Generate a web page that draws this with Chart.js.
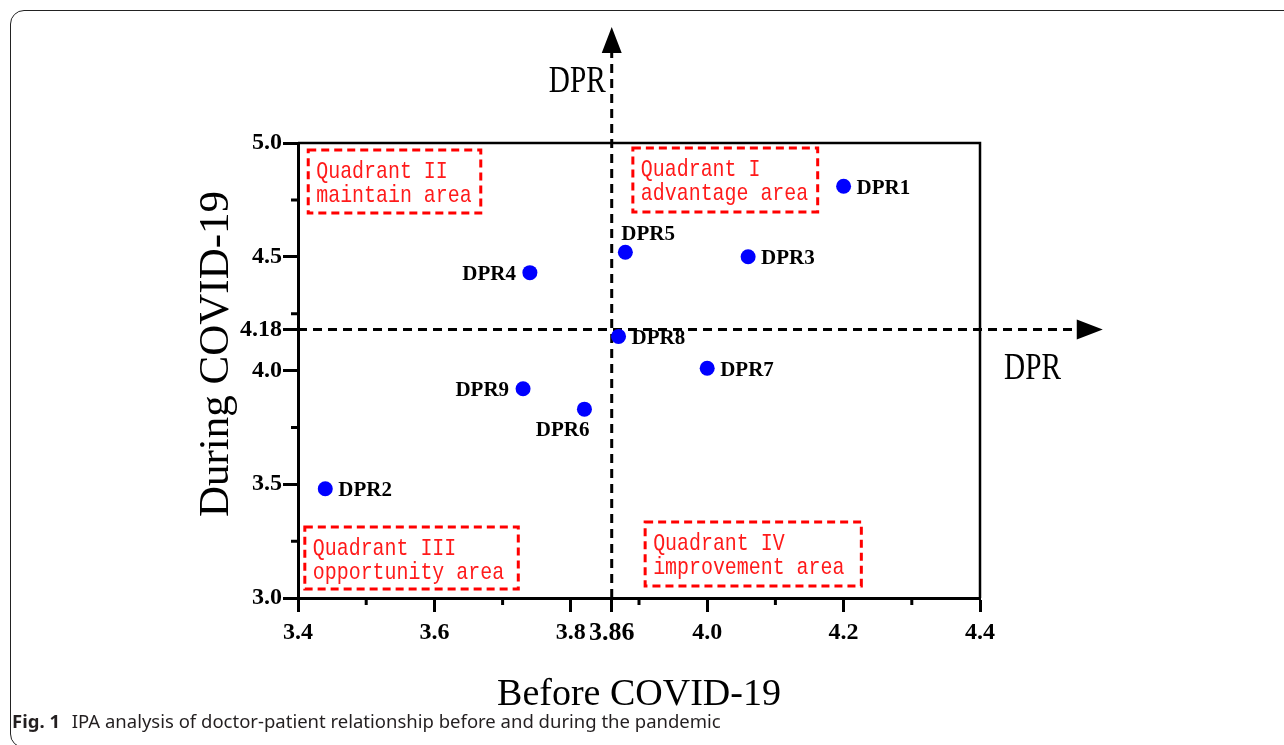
<!DOCTYPE html>
<html>
<head>
<meta charset="utf-8">
<script src="https://cdn.jsdelivr.net/npm/chart.js@4.4.0/dist/chart.umd.min.js"></script>
<style>
html, body { margin: 0; padding: 0; background: #fff; }
#wrap { position: relative; width: 1284px; height: 745px; overflow: hidden; }
#chart { position: absolute; left: 0; top: 0; }
#frame { position: absolute; left: 10px; top: 10px; width: 1320px; height: 738px; border: 1.5px solid #222; border-radius: 14px; box-sizing: border-box; pointer-events: none; }
#caption { position: absolute; left: 12px; top: 712px; font-family: "Noto Sans"; font-size: 18.5px; line-height: 18px; color: #231f20; white-space: nowrap; }
#caption b { margin-right: 7px; }
</style>
</head>
<body>
<div id="wrap">
  <canvas id="chart" width="1284" height="745"></canvas>
  <div id="frame"></div>
  <div id="caption"><b>Fig. 1</b> IPA analysis of doctor-patient relationship before and during the pandemic</div>
</div>
<script>
// data
const names  = ["DPR1", "DPR2", "DPR3", "DPR4", "DPR5", "DPR6", "DPR7", "DPR8", "DPR9"];
const before = [4.20, 3.44, 4.06, 3.74, 3.88, 3.82, 4.00, 3.87, 3.73];
const during = [4.81, 3.48, 4.50, 4.43, 4.52, 3.83, 4.01, 4.15, 3.92];

const xTicks = [3.4, 3.6, 3.8, 3.86, 4.0, 4.2, 4.4];
const xTickLabels = ["3.4", "3.6", "3.8", "3.86", "4.0", "4.2", "4.4"];
const xMinor = [3.5, 3.7, 3.9, 4.1, 4.3];
const yTicks = [3.0, 3.5, 4.0, 4.18, 4.5, 5.0];
const yTickLabels = ["3.0", "3.5", "4.0", "4.18", "4.5", "5.0"];
const yMinor = [3.25, 3.75, 4.25, 4.75];

const xMean = 3.86;
const yMean = 4.18;

// where each point label sits
const labelSide = ["right", "right", "right", "left", "above", "below", "right", "right", "left"];

// quadrant boxes, in data units
const quadrants = [
    { lines: ["Quadrant II", "maintain area"], x: [3.415, 3.668], y: [4.969, 4.692] },
    { lines: ["Quadrant I", "advantage area"], x: [3.891, 4.162], y: [4.978, 4.697] },
    { lines: ["Quadrant III", "opportunity area"], x: [3.410, 3.723], y: [3.312, 3.040] },
    { lines: ["Quadrant IV", "improvement area"], x: [3.909, 4.226], y: [3.334, 3.053] }
];

const SERIF = "'Liberation Serif', 'Times New Roman', serif";
const MONO = "'Liberation Mono', monospace";

function squeezeText(ctx, text, x, y, sx) {
    ctx.save();
    ctx.translate(x, y);
    ctx.scale(sx, 1);
    ctx.fillText(text, 0, 0);
    ctx.restore();
}

const decor = {
    id: "decor",
    beforeDatasetsDraw(chart) {
        const { ctx, chartArea: a, scales: { x, y } } = chart;
        ctx.save();

        // top and right edges of the box
        ctx.strokeStyle = "#000";
        ctx.lineWidth = 2.5;
        ctx.beginPath();
        ctx.moveTo(a.left, a.top);
        ctx.lineTo(a.right, a.top);
        ctx.lineTo(a.right, a.bottom);
        ctx.stroke();

        // minor ticks
        ctx.lineWidth = 3;
        ctx.beginPath();
        xMinor.forEach(v => {
            const px = x.getPixelForValue(v);
            ctx.moveTo(px, a.bottom);
            ctx.lineTo(px, a.bottom + 7);
        });
        yMinor.forEach(v => {
            const py = y.getPixelForValue(v);
            ctx.moveTo(a.left, py);
            ctx.lineTo(a.left - 7, py);
        });
        ctx.stroke();

        // mean lines with arrows
        const mx = x.getPixelForValue(xMean);
        const my = y.getPixelForValue(yMean);
        const tipY = y.getPixelForValue(5.51);
        const tipX = x.getPixelForValue(4.58);
        ctx.setLineDash([9, 6]);
        ctx.lineWidth = 3;
        ctx.beginPath();
        ctx.moveTo(mx, a.bottom);
        ctx.lineTo(mx, tipY + 24);
        ctx.moveTo(a.left, my);
        ctx.lineTo(tipX - 24, my);
        ctx.stroke();
        ctx.setLineDash([]);
        ctx.fillStyle = "#000";
        ctx.beginPath();
        ctx.moveTo(mx, tipY);
        ctx.lineTo(mx - 10, tipY + 26);
        ctx.lineTo(mx + 10, tipY + 26);
        ctx.closePath();
        ctx.moveTo(tipX, my);
        ctx.lineTo(tipX - 26, my - 10);
        ctx.lineTo(tipX - 26, my + 10);
        ctx.closePath();
        ctx.fill();

        // DPR labels at the arrows
        ctx.font = "38px " + SERIF;
        ctx.textBaseline = "alphabetic";
        ctx.textAlign = "right";
        squeezeText(ctx, "DPR", mx - 6, tipY + 65, 0.77);
        ctx.textAlign = "left";
        squeezeText(ctx, "DPR", a.right + 24, my + 49, 0.77);

        // quadrant boxes
        ctx.strokeStyle = "#ff0000";
        ctx.fillStyle = "#ff1a1a";
        ctx.lineWidth = 3;
        ctx.font = "24px " + MONO;
        ctx.textAlign = "left";
        quadrants.forEach(q => {
            const x1 = x.getPixelForValue(q.x[0]), x2 = x.getPixelForValue(q.x[1]);
            const y1 = y.getPixelForValue(q.y[0]), y2 = y.getPixelForValue(q.y[1]);
            ctx.setLineDash([8, 5]);
            ctx.strokeRect(x1, y1, x2 - x1, y2 - y1);
            ctx.setLineDash([]);
            q.lines.forEach((t, i) => squeezeText(ctx, t, x1 + 8, y1 + 28 + i * 24, 0.83));
        });

        ctx.restore();
    },
    afterDatasetsDraw(chart) {
        const { ctx } = chart;
        const pts = chart.getDatasetMeta(0).data;
        ctx.save();
        ctx.fillStyle = "#000";
        ctx.font = "bold 21px " + SERIF;
        ctx.textBaseline = "middle";
        pts.forEach((p, i) => {
            const side = labelSide[i];
            if (side === "right") {
                ctx.textAlign = "left";
                ctx.fillText(names[i], p.x + 13, p.y + 2);
            } else if (side === "left") {
                ctx.textAlign = "right";
                ctx.fillText(names[i], p.x - 14, p.y + 2);
            } else if (side === "above") {
                ctx.textAlign = "left";
                ctx.fillText(names[i], p.x - 4, p.y - 18);
            } else {
                ctx.textAlign = "right";
                ctx.fillText(names[i], p.x + 5, p.y + 21);
            }
        });
        ctx.restore();
    },
    afterDraw(chart) {
        const { ctx, chartArea: a } = chart;
        ctx.save();
        ctx.fillStyle = "#000";
        ctx.font = "38px " + SERIF;
        ctx.textAlign = "center";
        ctx.textBaseline = "alphabetic";
        ctx.fillText("Before COVID-19", (a.left + a.right) / 2, a.bottom + 107);
        ctx.translate(a.left - 70, a.top + 211);
        ctx.rotate(-Math.PI / 2);
        ctx.font = "43px " + SERIF;
        ctx.fillText("During COVID-19", 0, 0);
        ctx.restore();
    }
};

const tickFont = { family: SERIF, weight: "bold", size: 24 };

new Chart(document.getElementById("chart"), {
    type: "scatter",
    data: {
        datasets: [{
            data: before.map((b, i) => ({ x: b, y: during[i] })),
            backgroundColor: "#0000ff",
            borderWidth: 0,
            pointRadius: 7.5,
            pointHoverRadius: 7.5
        }]
    },
    options: {
        responsive: false,
        devicePixelRatio: 1,
        animation: false,
        layout: { padding: { left: 0, top: 143, right: 304, bottom: 0 } },
        plugins: { legend: { display: false }, tooltip: { enabled: false } },
        scales: {
            x: {
                type: "linear",
                min: 3.4,
                max: 4.4,
                afterBuildTicks: s => { s.ticks = xTicks.map(v => ({ value: v })); },
                afterFit: s => { s.height = 147; },
                ticks: {
                    autoSkip: false,
                    maxRotation: 0,
                    padding: 6,
                    color: "#000",
                    font: c => (c.tick && c.tick.value === 3.86) ? { ...tickFont, size: 26 } : tickFont,
                    callback: (v, i) => xTickLabels[i]
                },
                grid: { drawOnChartArea: false, drawTicks: true, tickLength: 14, tickWidth: 3, tickColor: "#000" },
                border: { color: "#000", width: 3 }
            },
            y: {
                type: "linear",
                min: 3.0,
                max: 5.0,
                afterBuildTicks: s => { s.ticks = yTicks.map(v => ({ value: v })); },
                afterFit: s => { s.width = 298; },
                ticks: {
                    autoSkip: false,
                    padding: 1,
                    color: "#000",
                    font: tickFont,
                    callback: (v, i) => yTickLabels[i]
                },
                grid: { drawOnChartArea: false, drawTicks: true, tickLength: 15, tickWidth: 3, tickColor: "#000" },
                border: { color: "#000", width: 3 }
            }
        }
    },
    plugins: [decor]
});
</script>
</body>
</html>
